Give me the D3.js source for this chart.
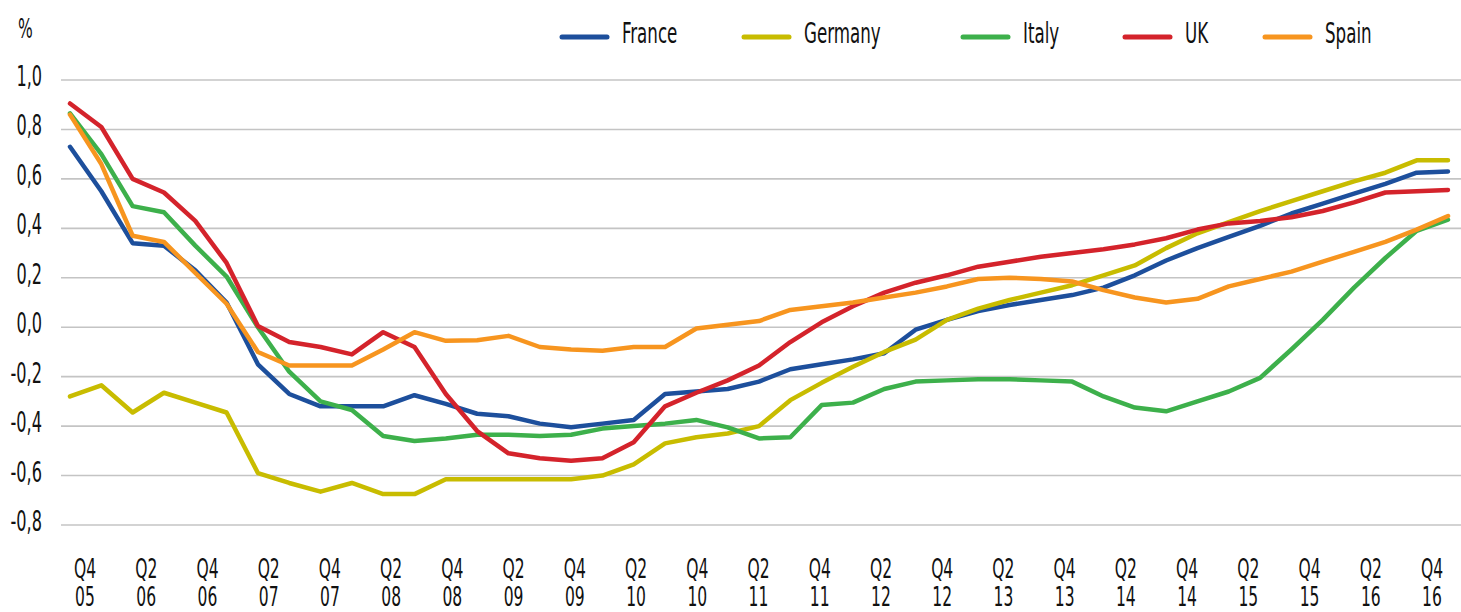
<!DOCTYPE html>
<html>
<head>
<meta charset="utf-8">
<script src="https://cdn.jsdelivr.net/npm/d3@7"></script>
<style>
	html, body { margin: 0; padding: 0; background: #fff; }
	svg { display: block; }
	text { font-family: "Liberation Sans Narrow", "DejaVu Sans Condensed", "Roboto", sans-serif; fill: #111; }
</style>
</head>
<body>
<div id="chart"></div>
<script>
// Quarters from Q4 2005 to Q4 2016
const quarters = [
	"Q4 05",
	"Q1 06", "Q2 06", "Q3 06", "Q4 06",
	"Q1 07", "Q2 07", "Q3 07", "Q4 07",
	"Q1 08", "Q2 08", "Q3 08", "Q4 08",
	"Q1 09", "Q2 09", "Q3 09", "Q4 09",
	"Q1 10", "Q2 10", "Q3 10", "Q4 10",
	"Q1 11", "Q2 11", "Q3 11", "Q4 11",
	"Q1 12", "Q2 12", "Q3 12", "Q4 12",
	"Q1 13", "Q2 13", "Q3 13", "Q4 13",
	"Q1 14", "Q2 14", "Q3 14", "Q4 14",
	"Q1 15", "Q2 15", "Q3 15", "Q4 15",
	"Q1 16", "Q2 16", "Q3 16", "Q4 16"
];

// Tick labels on the x axis (every second quarter)
const tickLabels = [
	"Q4 05", "Q2 06", "Q4 06", "Q2 07", "Q4 07", "Q2 08", "Q4 08", "Q2 09",
	"Q4 09", "Q2 10", "Q4 10", "Q2 11", "Q4 11", "Q2 12", "Q4 12", "Q2 13",
	"Q4 13", "Q2 14", "Q4 14", "Q2 15", "Q4 15", "Q2 16", "Q4 16"
];

const yTicks = [1.0, 0.8, 0.6, 0.4, 0.2, 0.0, -0.2, -0.4, -0.6, -0.8];

const france = [0.73, 0.55, 0.34, 0.33, 0.23, 0.10, -0.15, -0.27, -0.32, -0.32, -0.32, -0.275, -0.31,
	-0.35, -0.36, -0.39, -0.405, -0.39, -0.375, -0.27, -0.26, -0.25, -0.22, -0.17, -0.15, -0.13,
	-0.105, -0.01, 0.03, 0.065, 0.09, 0.11, 0.13, 0.16, 0.21, 0.27, 0.32, 0.365, 0.41, 0.46, 0.50,
	0.54, 0.58, 0.625, 0.63];

const germany = [-0.28, -0.235, -0.345, -0.265, -0.305, -0.345, -0.59, -0.63, -0.665, -0.63, -0.675,
	-0.675, -0.615, -0.615, -0.615, -0.615, -0.615, -0.60, -0.555, -0.47, -0.445, -0.43, -0.40,
	-0.295, -0.225, -0.16, -0.10, -0.05, 0.03, 0.075, 0.11, 0.14, 0.17, 0.21, 0.25, 0.32, 0.38,
	0.425, 0.47, 0.51, 0.55, 0.59, 0.625, 0.675, 0.675];

const italy = [0.865, 0.70, 0.49, 0.465, 0.33, 0.205, 0.0, -0.18, -0.30, -0.335, -0.44, -0.46, -0.45,
	-0.435, -0.435, -0.44, -0.435, -0.41, -0.40, -0.39, -0.375, -0.405, -0.45, -0.445, -0.315,
	-0.305, -0.25, -0.22, -0.215, -0.21, -0.21, -0.215, -0.22, -0.28, -0.325, -0.34, -0.30, -0.26,
	-0.205, -0.09, 0.03, 0.16, 0.28, 0.39, 0.435];

const uk = [0.905, 0.81, 0.60, 0.545, 0.43, 0.26, 0.005, -0.06, -0.08, -0.11, -0.02, -0.08, -0.27,
	-0.42, -0.51, -0.53, -0.54, -0.53, -0.465, -0.32, -0.265, -0.215, -0.155, -0.06, 0.02, 0.085,
	0.14, 0.18, 0.21, 0.245, 0.265, 0.285, 0.30, 0.315, 0.335, 0.36, 0.395, 0.42, 0.43, 0.445,
	0.47, 0.505, 0.545, 0.55, 0.555];

const spain = [0.86, 0.66, 0.37, 0.345, 0.22, 0.095, -0.10, -0.155, -0.155, -0.155, -0.09, -0.02,
	-0.055, -0.053, -0.035, -0.08, -0.09, -0.095, -0.08, -0.08, -0.005, 0.01, 0.025, 0.07, 0.085,
	0.10, 0.12, 0.14, 0.165, 0.195, 0.20, 0.195, 0.185, 0.15, 0.12, 0.10, 0.115, 0.165, 0.195,
	0.225, 0.265, 0.305, 0.345, 0.395, 0.45];

const seriesNames = ["France", "Germany", "Italy", "UK", "Spain"];
const seriesValues = [france, germany, italy, uk, spain];

// styling, kept apart from the data
const colours = ["#1d4f9c", "#c8bc00", "#3db04b", "#d4232b", "#f7951f"];
const legendX = [560, 742, 961, 1123, 1263];

const width = 1461, height = 612;
const textScale = 0.64;

const svg = d3.select("#chart").append("svg")
	.attr("width", width)
	.attr("height", height);

// Scales
const x = d3.scalePoint().domain(quarters).range([70, 1448]);
const xLabels = d3.scalePoint().domain(tickLabels).range([85, 1432]);
const y = d3.scaleLinear().domain([-0.8, 1.0]).range([525, 80]);

// helper: condensed text placed with a transform
function placeText(sel, tx, ty) {
	return sel.attr("transform", (d, i) => `translate(${tx(d, i)},${ty(d, i)}) scale(${textScale},1)`);
}

// Gridlines
svg.append("g")
	.selectAll("line")
	.data(yTicks)
	.enter()
	.append("line")
	.attr("x1", 61)
	.attr("x2", width)
	.attr("y1", d => y(d))
	.attr("y2", d => y(d))
	.attr("stroke", "#c4c4c4")
	.attr("stroke-width", 1.6);

// Y labels
placeText(svg.append("g")
	.selectAll("text")
	.data(yTicks)
	.enter()
	.append("text")
	.attr("text-anchor", "end")
	.style("font-size", "28px")
	.text(d => d3.format(".1f")(d).replace(".", ",").replace("−", "-")),
	() => 42, d => y(d) + 6);

// "%" unit
svg.append("text")
	.attr("transform", `translate(18,38) scale(${textScale},1)`)
	.style("font-size", "27px")
	.text("%");

// X labels (two lines)
const xl = svg.append("g")
	.selectAll("g")
	.data(tickLabels)
	.enter()
	.append("g")
	.attr("transform", d => `translate(${xLabels(d)},0)`);

xl.append("text")
	.attr("text-anchor", "middle")
	.attr("transform", `translate(0,578) scale(${textScale},1)`)
	.style("font-size", "27px")
	.text(d => d.split(" ")[0]);

xl.append("text")
	.attr("text-anchor", "middle")
	.attr("transform", `translate(0,606) scale(${textScale},1)`)
	.style("font-size", "27px")
	.text(d => d.split(" ")[1]);

// Lines
const line = d3.line()
	.x((d, i) => x(quarters[i]))
	.y(d => y(d));

svg.append("g")
	.selectAll("path")
	.data(seriesValues)
	.enter()
	.append("path")
	.attr("d", d => line(d))
	.attr("fill", "none")
	.attr("stroke", (d, i) => colours[i])
	.attr("stroke-width", 4.5)
	.attr("stroke-linejoin", "round")
	.attr("stroke-linecap", "round");

// Legend
const legend = svg.append("g")
	.selectAll("g")
	.data(seriesNames)
	.enter()
	.append("g")
	.attr("transform", (d, i) => `translate(${legendX[i]},0)`);

legend.append("line")
	.attr("x1", 2)
	.attr("x2", 47)
	.attr("y1", 37)
	.attr("y2", 37)
	.attr("stroke", (d, i) => colours[i])
	.attr("stroke-width", 5)
	.attr("stroke-linecap", "round");

legend.append("text")
	.attr("transform", `translate(62,43) scale(${textScale},1)`)
	.style("font-size", "29px")
	.text(d => d);
</script>
</body>
</html>
